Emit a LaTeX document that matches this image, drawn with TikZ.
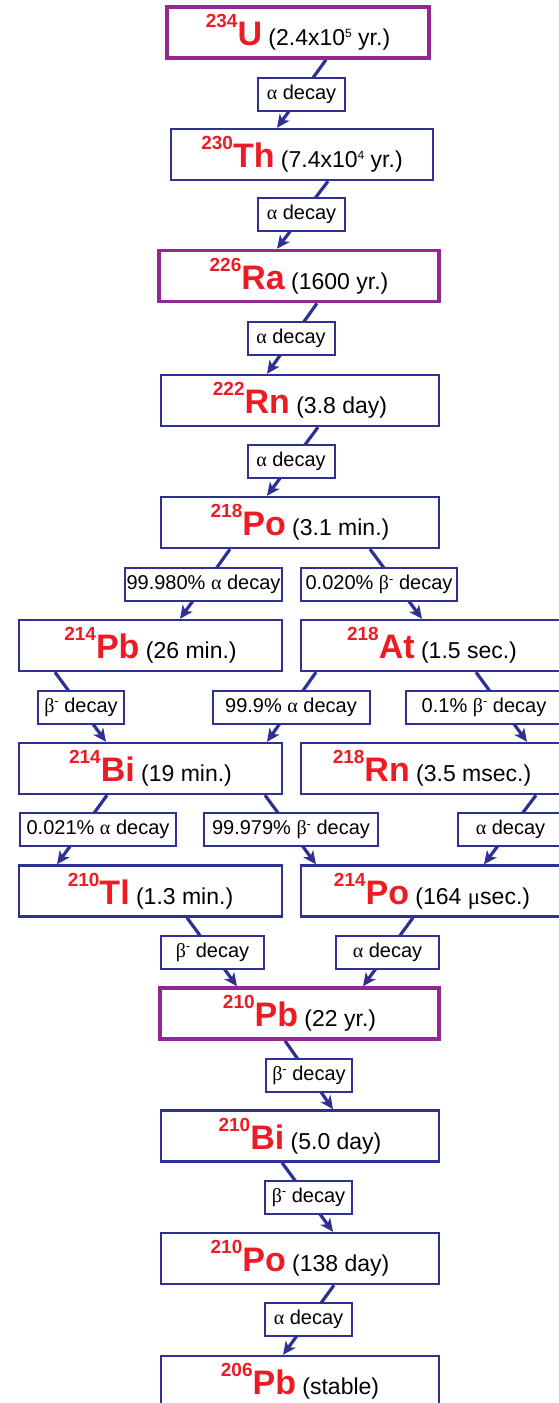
\documentclass[tikz,border=0pt]{standalone}
\usepackage{fontspec}
\setmainfont{Liberation Sans}
\newfontfamily\greekfont{Liberation Serif}
\usepackage{tikz}
\usepackage{xcolor}
\usetikzlibrary{arrows.meta,backgrounds}
\definecolor{chainblue}{RGB}{46,49,146}
\definecolor{chainpurple}{RGB}{146,39,143}
\definecolor{isored}{RGB}{237,28,36}

\newcommand{\galpha}{{\greekfont α}}
\newcommand{\gmu}{{\greekfont μ}}
\newcommand{\gbeta}{{\greekfont β}\raisebox{6.5pt}{\fontsize{13}{13}\selectfont -}}
\newcommand{\expo}[1]{\raisebox{8pt}{\fontsize{12}{12}\selectfont #1}}
\newcommand{\nuclide}[3]{{\color{isored}\bfseries
  \raisebox{18pt}{\fontsize{19}{19}\selectfont #1}\fontsize{34}{34}\selectfont #2}%
  {\fontsize{23}{24}\selectfont\ #3}}

\tikzset{
  nucbox/.style={draw=chainblue,line width=2.4pt,fill=white,inner sep=0pt,
                 minimum height=51pt},
  parent/.style={nucbox,draw=chainpurple,line width=3.5pt},
  decaybox/.style={draw=chainblue,line width=2pt,fill=white,inner sep=0pt,
                   minimum height=33pt,font=\fontsize{20}{21}\selectfont},
  decayflow/.style={draw=chainblue,line width=3.2pt,
                    -{Stealth[length=13pt,width=12pt,inset=3.5pt]}}
}

\begin{document}
\begin{tikzpicture}[x=1pt,y=-1pt]
\useasboundingbox (0,0) rectangle (559,1403);

% main line
\node[parent,minimum width=262pt] (u) at (298,32.5) {\nuclide{234}{U}{(2.4x10\expo{5} yr.)}};
\node[decaybox,minimum width=87pt] (a1) at (301.5,94) {\galpha\ decay};
\node[nucbox,minimum width=262pt] (th) at (302,154.5) {\nuclide{230}{Th}{(7.4x10\expo{4} yr.)}};
\node[decaybox,minimum width=87pt] (a2) at (301.5,214.5) {\galpha\ decay};
\node[parent,minimum width=280pt] (ra) at (299,276) {\nuclide{226}{Ra}{(1600 yr.)}};
\node[decaybox,minimum width=87pt] (a3) at (291,338) {\galpha\ decay};
\node[nucbox,minimum width=278pt] (rn) at (300,400.5) {\nuclide{222}{Rn}{(3.8 day)}};
\node[decaybox,minimum width=87pt] (a4) at (291,461.5) {\galpha\ decay};
\node[nucbox,minimum width=278pt] (po) at (300,522.5) {\nuclide{218}{Po}{(3.1 min.)}};

% branching part
\node[decaybox,minimum width=157pt] (polpha) at (203.5,584.5) {99.980\% \galpha\ decay};
\node[decaybox,minimum width=156pt] (pobeta) at (379,584.5) {0.020\% \gbeta\ decay};
\node[nucbox,minimum width=263pt] (pb) at (150.5,645.5) {\nuclide{214}{Pb}{(26 min.)}};
\node[nucbox,minimum width=262pt] (at) at (432,645.5) {\nuclide{218}{At}{(1.5 sec.)}};
\node[decaybox,minimum width=86pt] (pbbeta) at (81,707) {\gbeta\ decay};
\node[decaybox,minimum width=157pt] (atalpha) at (291,707) {99.9\% \galpha\ decay};
\node[decaybox,minimum width=156pt] (atbeta) at (484,707) {0.1\% \gbeta\ decay};
\node[nucbox,minimum width=263pt] (bi) at (150.5,768.5) {\nuclide{214}{Bi}{(19 min.)}};
\node[nucbox,minimum width=262pt] (rnb) at (432,768.5) {\nuclide{218}{Rn}{(3.5 msec.)}};
\node[decaybox,minimum width=156pt] (bialpha) at (98,829.5) {0.021\% \galpha\ decay};
\node[decaybox,minimum width=174pt] (bibeta) at (291,829.5) {99.979\% \gbeta\ decay};
\node[decaybox,minimum width=105pt] (rnalpha) at (510.5,829.5) {\galpha\ decay};
\node[nucbox,minimum width=263pt] (tl) at (150.5,891) {\nuclide{210}{Tl}{(1.3 min.)}};
\node[nucbox,minimum width=262pt] (pob) at (432,891) {\nuclide{214}{Po}{(164 \gmu sec.)}};
\node[decaybox,minimum width=103pt] (tlbeta) at (212.5,952) {\gbeta\ decay};
\node[decaybox,minimum width=103pt] (poalpha) at (387.5,952) {\galpha\ decay};

% tail
\node[parent,minimum width=279pt] (pbb) at (299.5,1013.5) {\nuclide{210}{Pb}{(22 yr.)}};
\node[decaybox,minimum width=86pt] (e1) at (309,1075) {\gbeta\ decay};
\node[nucbox,minimum width=278pt] (bib) at (300,1136) {\nuclide{210}{Bi}{(5.0 day)}};
\node[decaybox,minimum width=87pt] (e2) at (308.5,1197) {\gbeta\ decay};
\node[nucbox,minimum width=278pt] (poc) at (300,1258.5) {\nuclide{210}{Po}{(138 day)}};
\node[decaybox,minimum width=87pt] (e3) at (308.5,1319) {\galpha\ decay};
\node[nucbox,minimum width=278pt] (pbs) at (300,1381.5) {\nuclide{206}{Pb}{(stable)}};

\begin{scope}[on background layer]
\draw[decayflow] ([xshift=28pt]u.south) -- ([xshift=-25pt]th.north);
\draw[decayflow] ([xshift=26pt]th.south) -- ([xshift=-22pt]ra.north);
\draw[decayflow] ([xshift=18pt]ra.south) -- ([xshift=-33pt]rn.north);
\draw[decayflow] ([xshift=18pt]rn.south) -- ([xshift=-33pt]po.north);
\draw[decayflow] ([xshift=-70pt]po.south) -- ([xshift=29.5pt]pb.north);
\draw[decayflow] ([xshift=70pt]po.south) -- ([xshift=-10pt]at.north);
\draw[decayflow] ([xshift=-95.5pt]pb.south) -- ([xshift=-44.5pt]bi.north);
\draw[decayflow] ([xshift=-116pt]at.south) -- ([xshift=116.5pt]bi.north);
\draw[decayflow] ([xshift=44pt]at.south) -- ([xshift=95pt]rnb.north);
\draw[decayflow] ([xshift=-43.5pt]bi.south) -- ([xshift=-93.5pt]tl.north);
\draw[decayflow] ([xshift=114.5pt]bi.south) -- ([xshift=-116pt]pob.north);
\draw[decayflow] ([xshift=104pt]rnb.south) -- ([xshift=52pt]pob.north);
\draw[decayflow] ([xshift=36.5pt]tl.south) -- ([xshift=-62.5pt]pbb.north);
\draw[decayflow] ([xshift=-19pt]pob.south) -- ([xshift=63.5pt]pbb.north);
\draw[decayflow] ([xshift=-14.5pt]pbb.south) -- ([xshift=33pt]bib.north);
\draw[decayflow] ([xshift=-18pt]bib.south) -- ([xshift=33pt]poc.north);
\draw[decayflow] ([xshift=34pt]poc.south) -- ([xshift=-17pt]pbs.north);
\end{scope}
\end{tikzpicture}
\end{document}
